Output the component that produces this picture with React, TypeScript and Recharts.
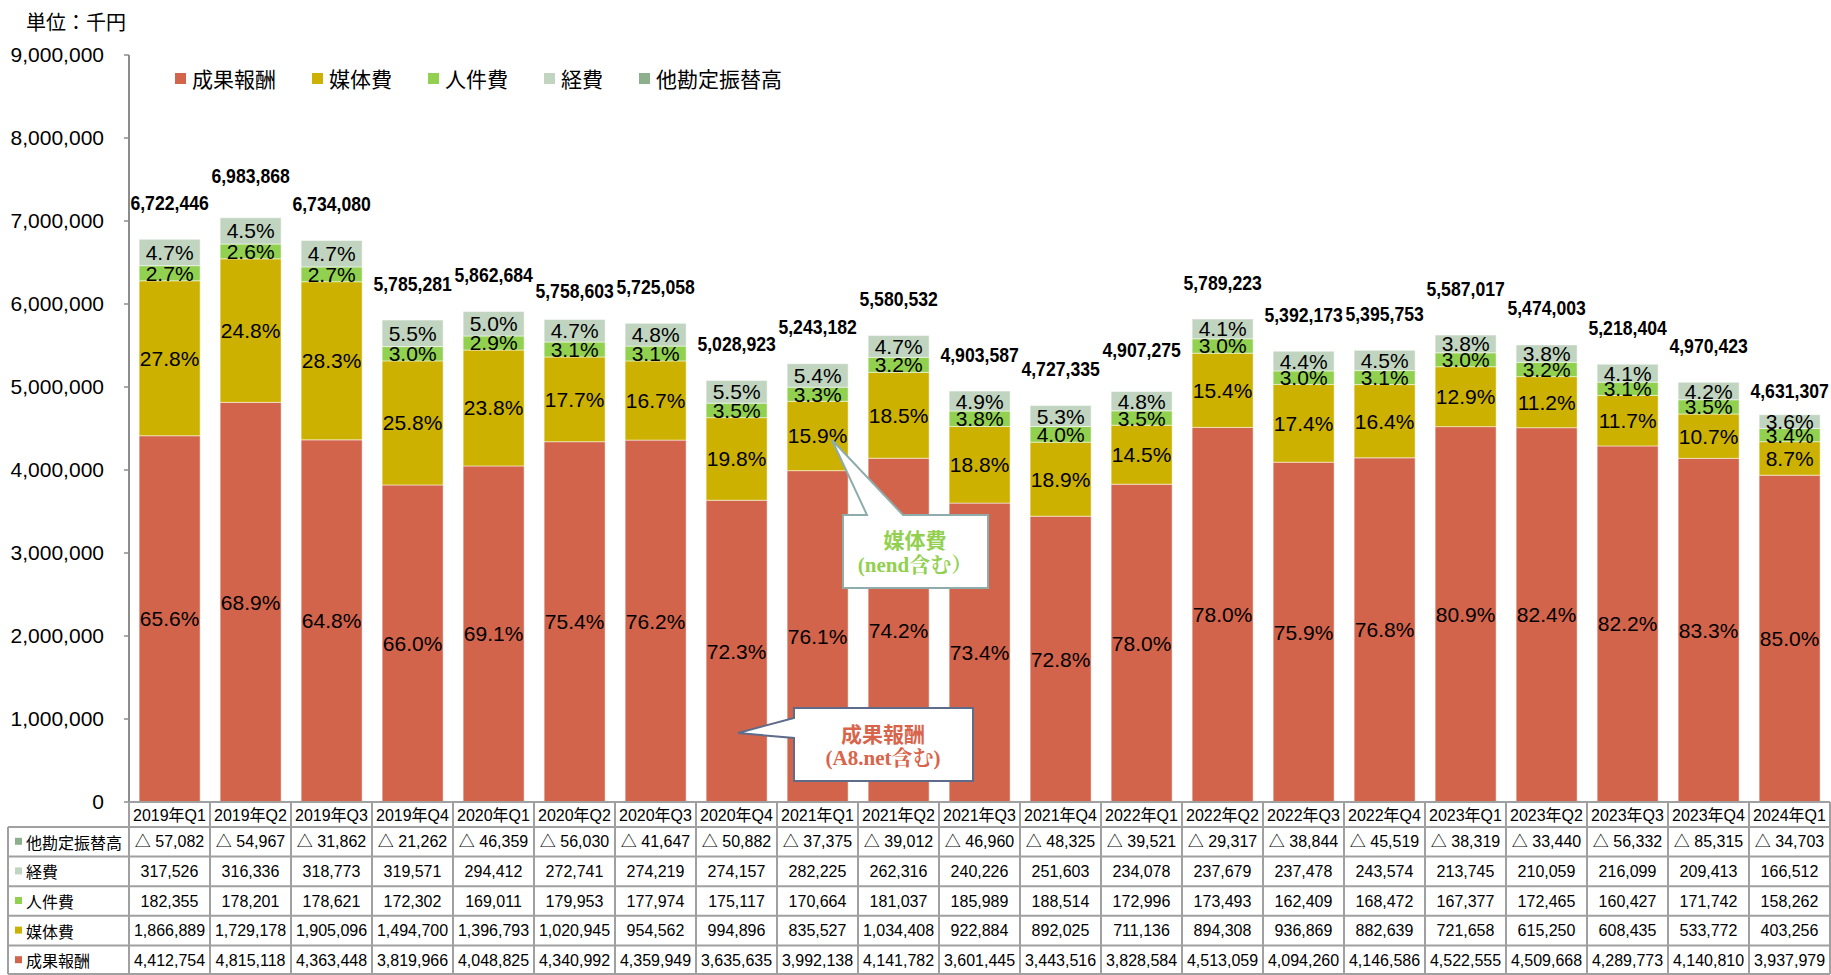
import React from 'react';
import { BarChart, Bar, XAxis, YAxis, LabelList, Legend } from 'recharts';

// ---------- data ----------
const categories = [
  '2019年Q1', '2019年Q2', '2019年Q3', '2019年Q4',
  '2020年Q1', '2020年Q2', '2020年Q3', '2020年Q4',
  '2021年Q1', '2021年Q2', '2021年Q3', '2021年Q4',
  '2022年Q1', '2022年Q2', '2022年Q3', '2022年Q4',
  '2023年Q1', '2023年Q2', '2023年Q3', '2023年Q4',
  '2024年Q1',
];
const seika = [4412754, 4815118, 4363448, 3819966, 4048825, 4340992, 4359949, 3635635, 3992138, 4141782, 3601445, 3443516, 3828584, 4513059, 4094260, 4146586, 4522555, 4509668, 4289773, 4140810, 3937979];
const baitai = [1866889, 1729178, 1905096, 1494700, 1396793, 1020945, 954562, 994896, 835527, 1034408, 922884, 892025, 711136, 894308, 936869, 882639, 721658, 615250, 608435, 533772, 403256];
const jinken = [182355, 178201, 178621, 172302, 169011, 179953, 177974, 175117, 170664, 181037, 185989, 188514, 172996, 173493, 162409, 168472, 167377, 172465, 160427, 171742, 158262];
const keihi = [317526, 316336, 318773, 319571, 294412, 272741, 274219, 274157, 282225, 262316, 240226, 251603, 234078, 237679, 237478, 243574, 213745, 210059, 216099, 209413, 166512];
const tafuri = [-57082, -54967, -31862, -21262, -46359, -56030, -41647, -50882, -37375, -39012, -46960, -48325, -39521, -29317, -38844, -45519, -38319, -33440, -56332, -85315, -34703];
const totals = [6722446, 6983868, 6734080, 5785281, 5862684, 5758603, 5725058, 5028923, 5243182, 5580532, 4903587, 4727335, 4907275, 5789223, 5392173, 5395753, 5587017, 5474003, 5218404, 4970423, 4631307];
const yTicks = [0, 1000000, 2000000, 3000000, 4000000, 5000000, 6000000, 7000000, 8000000, 9000000];

// ---------- styling ----------
const W = 1831;
const H = 975;
const PLOT_LEFT = 129;
const MARGIN_RIGHT = 1;
const PLOT_TOP = 55;
const AXIS_H = 173;
const PITCH = (W - PLOT_LEFT - MARGIN_RIGHT) / categories.length;
const HEADER_H = 25;
const ROW_H = (AXIS_H - HEADER_H) / 5;
const GRID = '#a0a0a0';
const NUM_FONT = "'Liberation Sans', Arial, 'Noto Sans CJK JP', sans-serif";
const CJK_FONT = "'Noto Sans CJK JP', 'Liberation Sans', sans-serif";
const SERIF_FONT = "'Liberation Serif', 'Noto Serif CJK JP', 'Noto Sans CJK JP', serif";
// gap (px) between bar top and centre of the total label
const TOTAL_GAP_DEFAULT = 37;
const TOTAL_GAP: Record<string, number> = { '2019年Q2': 42, '2020年Q2': 29, '2022年Q1': 42, '2023年Q1': 47, '2024年Q1': 24 };

const SERIES = [
  { key: 'seika', name: '成果報酬', color: '#D2644C', values: seika },
  { key: 'baitai', name: '媒体費', color: '#CCB100', values: baitai },
  { key: 'jinken', name: '人件費', color: '#92D050', values: jinken },
  { key: 'keihi', name: '経費', color: '#C0D4C0', values: keihi },
  { key: 'tafuri', name: '他勘定振替高', color: '#8CB08C', values: tafuri },
];
// table rows top -> bottom
const TABLE_ROWS = [SERIES[4], SERIES[3], SERIES[2], SERIES[1], SERIES[0]];

const fmt = (v: number) => (v < 0 ? '△ ' + Math.abs(v).toLocaleString('en-US') : v.toLocaleString('en-US'));
const pct = (v: number, t: number) => (v / t * 100).toFixed(1) + '%';

const data = categories.map((cat, i) => ({
  cat,
  seika: seika[i],
  baitai: baitai[i],
  jinken: jinken[i],
  keihi: keihi[i],
  tafuri: tafuri[i],
  seikaPct: pct(seika[i], totals[i]),
  baitaiPct: pct(baitai[i], totals[i]),
  jinkenPct: pct(jinken[i], totals[i]),
  keihiPct: pct(keihi[i], totals[i]),
}));

const getBox = (props: any) => {
  const vb = props.viewBox || {};
  return {
    x: props.x ?? vb.x,
    y: props.y ?? vb.y,
    width: props.width ?? vb.width,
    height: props.height ?? vb.height,
  };
};

const PctLabel = (props: any) => {
  const { x, y, width, height } = getBox(props);
  if (x == null || !height) return null;
  return (
    <text x={x + width / 2} y={y + height / 2} textAnchor="middle" dominantBaseline="central"
      fontSize={21} fontFamily={NUM_FONT} fill="#000">{props.value}</text>
  );
};

const TotalLabel = (props: any) => {
  const { x, y, width } = getBox(props);
  if (x == null) return null;
  const cat = props.value as string;
  const i = categories.indexOf(cat);
  if (i < 0) return null;
  const s = totals[i].toLocaleString('en-US');
  const digits = s.replace(/[^0-9]/g, '').length;
  const commas = s.length - digits;
  const gap = TOTAL_GAP[cat] ?? TOTAL_GAP_DEFAULT;
  return (
    <text x={x + width / 2} y={y - gap} textAnchor="middle" dominantBaseline="central"
      fontSize={21} fontWeight="bold" fontFamily={NUM_FONT} fill="#000"
      textLength={digits * 9.8 + commas * 4.9} lengthAdjust="spacingAndGlyphs">{s}</text>
  );
};

const TableTick = (props: any) => {
  const { x, y, payload } = props;
  const i = categories.indexOf(payload.value);
  const left = x - PITCH / 2;
  const right = x + PITCH / 2;
  const bottom = y + AXIS_H - 1;
  const els: any[] = [];
  els.push(<line key="vl" x1={left} y1={y} x2={left} y2={bottom} stroke={GRID} strokeWidth={2} />);
  els.push(<line key="vr" x1={right} y1={y} x2={right} y2={bottom} stroke={GRID} strokeWidth={2} />);
  for (let k = 0; k <= 5; k++) {
    const yy = k === 5 ? bottom : y + HEADER_H + ROW_H * k;
    els.push(<line key={'h' + k} x1={left} y1={yy} x2={right} y2={yy} stroke={GRID} strokeWidth={2} />);
  }
  els.push(
    <text key="hdr" x={x} y={y + HEADER_H / 2 + 1} textAnchor="middle" dominantBaseline="central"
      fontSize={16} fontFamily={NUM_FONT} fill="#000">{payload.value}</text>
  );
  TABLE_ROWS.forEach((s, k) => {
    els.push(
      <text key={'v' + k} x={x} y={y + HEADER_H + ROW_H * (k + 0.5)} textAnchor="middle" dominantBaseline="central"
        fontSize={16} fontFamily={NUM_FONT} fill="#000">{fmt(s.values[i])}</text>
    );
  });
  if (i === 0) {
    const lx = 8;
    els.push(<line key="lvl" x1={lx} y1={y + HEADER_H} x2={lx} y2={bottom} stroke={GRID} strokeWidth={2} />);
    for (let k = 0; k <= 5; k++) {
      const yy = k === 5 ? bottom : y + HEADER_H + ROW_H * k;
      els.push(<line key={'lh' + k} x1={lx} y1={yy} x2={left} y2={yy} stroke={GRID} strokeWidth={2} />);
    }
    TABLE_ROWS.forEach((s, k) => {
      const cy = y + HEADER_H + ROW_H * (k + 0.5);
      els.push(<rect key={'ls' + k} x={15} y={cy - 4} width={7} height={7} fill={s.color} />);
      els.push(
        <text key={'lt' + k} x={26} y={cy} dominantBaseline="central" fontSize={16}
          fontFamily={CJK_FONT} fill="#000">{s.name}</text>
      );
    });
  }
  return <g>{els}</g>;
};

const LegendContent = () => (
  <div style={{ display: 'flex', alignItems: 'center', whiteSpace: 'nowrap', fontFamily: CJK_FONT, fontSize: 21, color: '#000', lineHeight: '24px' }}>
    {SERIES.map((s) => (
      <div key={s.key} style={{ display: 'flex', alignItems: 'center', marginRight: 36 }}>
        <span style={{ display: 'inline-block', width: 11, height: 11, background: s.color, marginRight: 6 }} />
        <span>{s.name}</span>
      </div>
    ))}
  </div>
);

export default function App() {
  return (
    <div style={{ position: 'absolute', left: 0, top: 0, width: W, height: H, background: '#fff' }}>
      <BarChart width={W} height={H} data={data} stackOffset="sign" barCategoryGap="12.5%"
        margin={{ top: PLOT_TOP, right: MARGIN_RIGHT, left: 0, bottom: 0 }}>
        <YAxis width={PLOT_LEFT} domain={[0, 9000000]} ticks={yTicks} interval={0} allowDataOverflow
          tickSize={5} tickMargin={20}
          axisLine={{ stroke: '#8c8c8c', strokeWidth: 2 }} tickLine={{ stroke: '#8c8c8c', strokeWidth: 1.5 }}
          tick={{ fontSize: 21, fill: '#000', fontFamily: NUM_FONT }}
          tickFormatter={(v: number) => v.toLocaleString('en-US')} />
        <XAxis dataKey="cat" height={AXIS_H} interval={0} tickLine={false} tickSize={0} tickMargin={0}
          axisLine={{ stroke: GRID, strokeWidth: 2 }} tick={(p: any) => <TableTick {...p} />} />
        <Legend layout="horizontal" verticalAlign="middle" align="center"
          wrapperStyle={{ position: 'absolute', left: 175, top: 66, width: 'auto', height: 'auto' }}
          content={() => <LegendContent />} />
        <Bar dataKey="seika" name="成果報酬" stackId="s" fill={SERIES[0].color} stroke="#ffffff" strokeOpacity={0.5} strokeWidth={1} isAnimationActive={false}>
          <LabelList dataKey="seikaPct" content={PctLabel} />
        </Bar>
        <Bar dataKey="baitai" name="媒体費" stackId="s" fill={SERIES[1].color} stroke="#ffffff" strokeOpacity={0.5} strokeWidth={1} isAnimationActive={false}>
          <LabelList dataKey="baitaiPct" content={PctLabel} />
        </Bar>
        <Bar dataKey="jinken" name="人件費" stackId="s" fill={SERIES[2].color} stroke="#ffffff" strokeOpacity={0.5} strokeWidth={1} isAnimationActive={false}>
          <LabelList dataKey="jinkenPct" content={PctLabel} />
        </Bar>
        <Bar dataKey="keihi" name="経費" stackId="s" fill={SERIES[3].color} stroke="#ffffff" strokeOpacity={0.5} strokeWidth={1} isAnimationActive={false}>
          <LabelList dataKey="keihiPct" content={PctLabel} />
          <LabelList dataKey="cat" content={TotalLabel} />
        </Bar>
        <Bar dataKey="tafuri" name="他勘定振替高" stackId="s" fill={SERIES[4].color} isAnimationActive={false} />
      </BarChart>

      <svg width={W} height={H} style={{ position: 'absolute', left: 0, top: 0, pointerEvents: 'none' }}>
        <text x={26} y={21} dominantBaseline="central" fontSize={20} fontFamily={CJK_FONT} fill="#000">単位：千円</text>

        <path d="M843,515 L867,515 L832,440 L903,515 L988,515 L988,588 L843,588 Z"
          fill="#ffffff" stroke="#8eacac" strokeWidth={2} />
        <text x={915} y={539} textAnchor="middle" dominantBaseline="central" fontSize={21} fontWeight="bold"
          fontFamily={CJK_FONT} fill="#92D050">媒体費</text>
        <text x={915} y={565} textAnchor="middle" dominantBaseline="central" fontSize={21} fontWeight="bold"
          fontFamily={SERIF_FONT} fill="#92D050">(nend含む）</text>

        <path d="M794,708 L973,708 L973,781 L794,781 L794,738 L738,733 L794,718 Z"
          fill="#ffffff" stroke="#5e6c8a" strokeWidth={2} />
        <text x={883} y={733} textAnchor="middle" dominantBaseline="central" fontSize={21} fontWeight="bold"
          fontFamily={CJK_FONT} fill="#D8654B">成果報酬</text>
        <text x={883} y={758} textAnchor="middle" dominantBaseline="central" fontSize={21} fontWeight="bold"
          fontFamily={SERIF_FONT} fill="#D8654B">(A8.net含む)</text>
      </svg>
    </div>
  );
}
